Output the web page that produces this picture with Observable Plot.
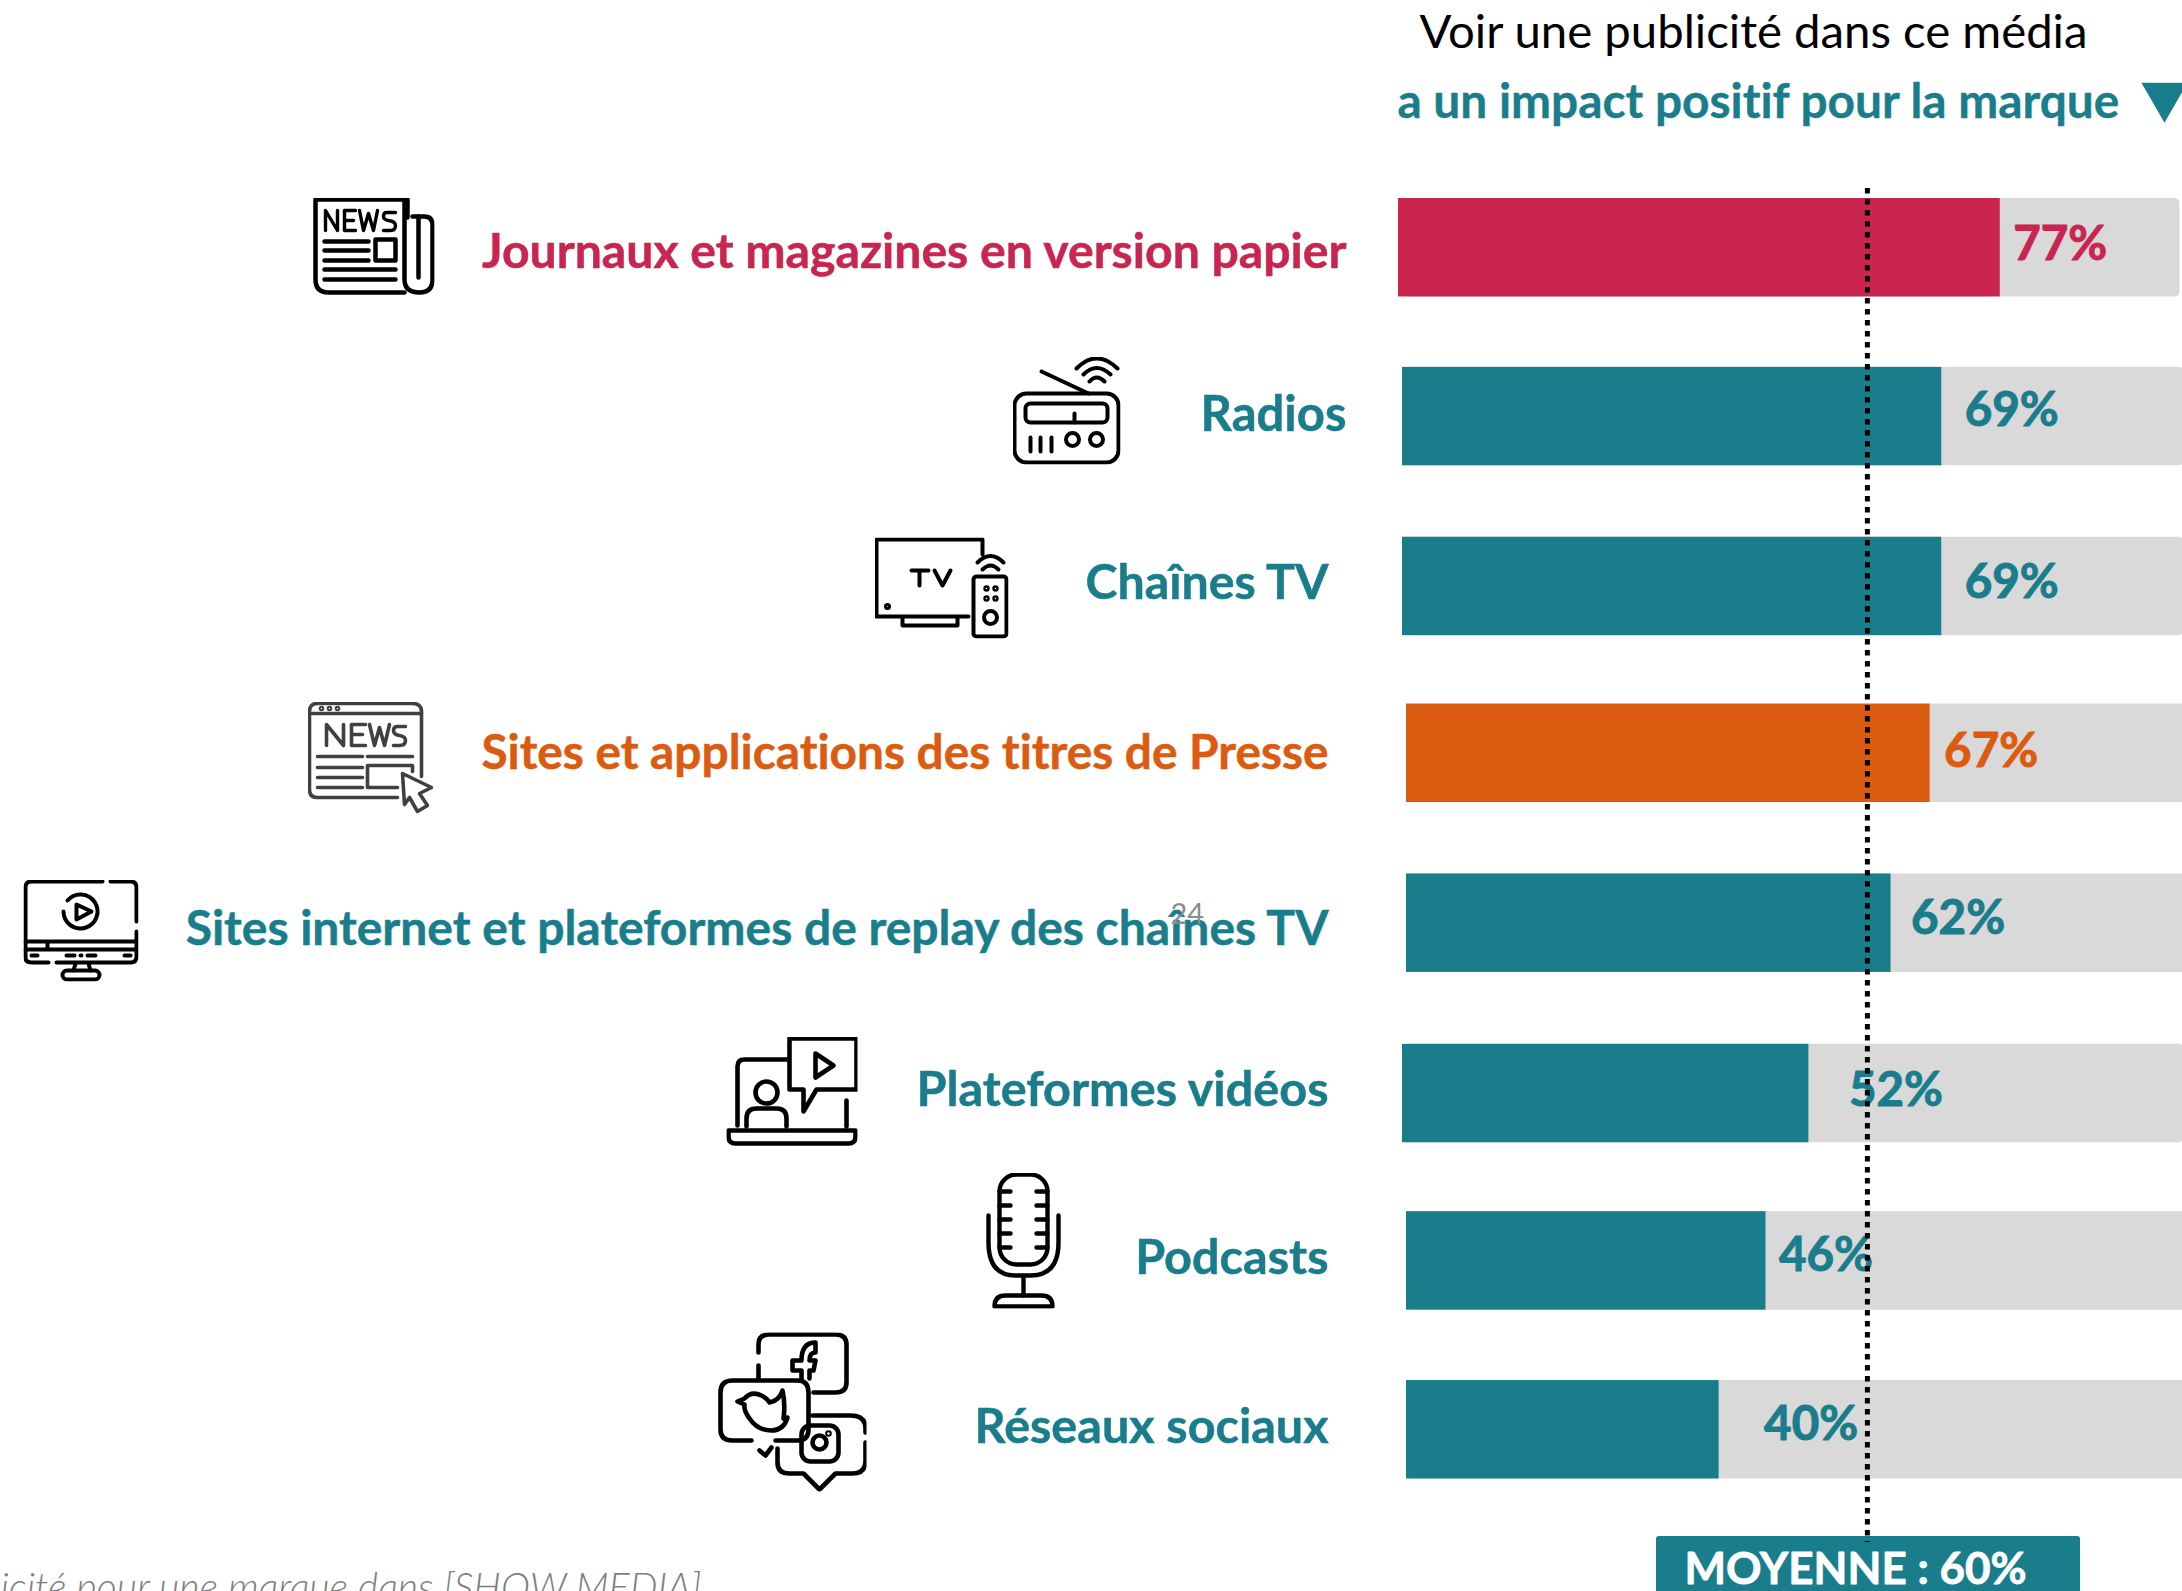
<!DOCTYPE html>
<html lang="fr">
<head>
<meta charset="utf-8">
<title>Impact positif de la publicité selon le média</title>
<script src="https://cdn.jsdelivr.net/npm/d3@7"></script>
<script src="https://cdn.jsdelivr.net/npm/@observablehq/plot@0.6"></script>
<style>html,body{margin:0;padding:0;background:#fff;overflow:hidden}svg{display:block}svg text{font-variant-ligatures:none}</style>
</head>
<body>
<div id="chart"></div>
<script>
// ---- data ----
const categories = [
  "Journaux et magazines en version papier",
  "Radios",
  "Chaînes TV",
  "Sites et applications des titres de Presse",
  "Sites internet et plateformes de replay des chaînes TV",
  "Plateformes vidéos",
  "Podcasts",
  "Réseaux sociaux"
];
const values = [77, 69, 69, 67, 62, 52, 46, 40];
const average = 60;
const averageLabel = "MOYENNE : 60%";
const titleLine1 = "Voir une publicité dans ce média";
const titleLine2 = "a un impact positif pour la marque";
const footnote = "icité pour une marque dans [SHOW MEDIA]";
const pageNumber = "24";

// ---- styles ----
const TEAL = "#1A7D8C", RED = "#C9254F", ORANGE = "#DB5C10", GREY = "#D9D9D9";
const barColors = [RED, TEAL, TEAL, ORANGE, TEAL, TEAL, TEAL, TEAL];
const W = 2182, H = 1591;
const FONT = "Lato";
const PX_PER_POINT = 7.815;

// ---- per-row nudges relative to the scales (px) ----
const barDx     = [0, 4, 4, 8, 8, 4, 8, 8];
const barDy     = [0, 0, 1, -1, 0, 1.5, 0, 0];
const labelDx   = [-52, -52, -70, -70, -70, -70, -70, -70];
const labelDy   = [5, -1.4, -3.4, 0.6, 6, -3, -2.4, -2.4];
const labelSize = [48.15, 49, 48.3, 47.8, 48, 48.6, 48.6, 48.5];
const valueDx   = [13, 23, 23, 14, 20, 40, 13, 45];
const valueDy   = [-2.5, -5.4, -4, -2, -4.5, -2.5, -5, -5];

// ---- icons: line drawings in their own local coordinates ----
const svgIcon = (w, h, sw, body, col = "#000") =>
  "data:image/svg+xml;utf8," + encodeURIComponent(
    `<svg xmlns="http://www.w3.org/2000/svg" width="${w}" height="${h}" viewBox="0 0 ${w} ${h}" preserveAspectRatio="none" fill="none" stroke="${col}" stroke-width="${sw}" stroke-linecap="round" stroke-linejoin="round">${body}</svg>`);

const icons = [
  // newspaper
  {left: 312, top: 197, w: 122, h: 98, src: svgIcon(122, 98, 4.5, `
    <path d="M93 2H3V82Q3 95 16 95H92"/><path d="M95 2V20"/>
    <path d="M100 19H112Q120 19 120 28V82Q120 95 107 95Q92 95 92 82V2"/><path d="M106 19V80"/>
    <path stroke-width="3.4" d="M13 33V13L25 33V13M43 13H32V33H43M32 23H41M47 13L51 33L56 16L61 33L65 13M83 15H74Q71 15 71 19Q71 22 76 23Q83 24 83 28Q83 33 78 33H71"/>
    <path d="M12 44H56M12 53H56M12 63H56M12 72H83M12 82H83"/><rect x="63" y="42" width="20" height="21"/>`)},
  // radio
  {left: 1012, top: 356, w: 108, h: 108, src: svgIcon(108, 108, 4, `
    <rect x="2" y="37" width="104" height="69" rx="12"/><rect x="13" y="47" width="82" height="19" rx="5"/>
    <path d="M62 57V66M29 15L76 37M18 81V95M28 81V95M39 81V95"/>
    <circle cx="60" cy="83" r="6.5"/><circle cx="84" cy="83" r="6.5"/>
    <path d="M64 12Q84 -8 105 12M71 18Q84 5 98 18M77 25Q84 17 92 25"/>`)},
  // TV and remote
  {left: 874, top: 537, w: 134, h: 101, src: svgIcon(134, 101, 4, `
    <path d="M108 17V2H2V79H94"/><path d="M28 80V88H83V80"/>
    <path d="M37 33H54M45 33V48M60 33L68 48L76 33"/><circle cx="13" cy="69" r="1.5"/>
    <rect x="99" y="39" width="33" height="60" rx="3"/>
    <path d="M103 25Q116 12 129 25M108 32Q116 24 124 32" />
    <circle cx="112" cy="51" r="1.2"/><circle cx="121" cy="51" r="1.2"/><circle cx="112" cy="61" r="1.2"/><circle cx="121" cy="61" r="1.2"/>
    <circle cx="116" cy="80" r="6.5"/>`)},
  // online news
  {left: 307, top: 701, w: 126, h: 112, src: svgIcon(126, 112, 3.6, `
    <path d="M114 75V10Q114 2 105 2H10Q2 2 2 10V88Q2 96 10 96H90"/><path d="M2 12H114"/>
    <circle cx="14" cy="7" r="1"/><circle cx="22" cy="7" r="1"/><circle cx="30" cy="7" r="1"/>
    <path d="M19 44V23L36 44V23M58 23H44V44H58M44 33H55M62 23L67 44L72 26L77 44L82 23M98 25H90Q86 25 86 29Q86 33 92 34Q98 35 98 39Q98 44 92 44H86"/>
    <path d="M10 55H55M60 55H105M10 66H55M10 76H55M10 86H55M105 70V64H60V86H90"/>
    <path d="M95 72L124 86L112 92L120 104L110 110L102 96L97 103Z"/>`, "#404040")},
  // replay monitor
  {left: 23, top: 879, w: 115, h: 102, src: svgIcon(115, 102, 4, `
    <path d="M79 2H8Q2 2 2 8V78Q2 83 8 83H25M33 83H107Q113 83 113 77V52M113 42V8Q113 2 107 2H87"/>
    <path d="M2 62H113M2 70H113M24 62V70"/>
    <path d="M8 76H14M43 76H51M57 76H58M64 76H72M101 76H107"/>
    <path d="M52 84L50 91M65 84L67 91"/><rect x="39" y="91" width="37" height="9" rx="4.5"/>
    <path d="M40 32A17 17 0 1 0 44 21"/><path d="M53 25L68 32L53 40Z"/>`)},
  // video platforms
  {left: 726, top: 1036, w: 131, h: 110, src: svgIcon(131, 110, 4.6, `
    <path d="M11 89V30Q11 23 18 23H62"/><path d="M130 2H63V53H77V75L90 53H130Z"/>
    <path d="M89 17L107 29L89 41Z"/><circle cx="40" cy="56" r="11"/>
    <path d="M20 90V82Q20 72 30 72H50Q60 72 60 82V90M120 64V90"/>
    <path d="M2 94H129V100Q129 107 122 107H9Q2 107 2 100Z"/>`)},
  // podcast microphone
  {left: 985, top: 1172, w: 76, h: 136, src: svgIcon(76, 136, 4.4, `
    <rect x="14" y="2" width="48" height="90" rx="17"/>
    <path d="M14 19H25M14 33H25M14 47H25M14 61H25M14 75H25M51 19H62M51 33H62M51 47H62M51 61H62M51 75H62"/>
    <path d="M3 43V70Q3 103 30 103H45Q73 103 73 70V43M38 103V123"/>
    <path d="M9 134Q9 123 20 123H56Q67 123 67 134Z"/>`)},
  // social networks
  {left: 717, top: 1332, w: 149, h: 159, src: svgIcon(149, 159, 4.6, `
    <path d="M41 20V12Q41 2 52 2H118Q129 2 129 12V50Q129 60 118 60H96M41 33V47"/>
    <path d="M84 47V38H75V28H84Q84 10 98 10V20Q92 20 92 28H98L96 38H92V46"/>
    <path d="M3 60Q3 48 15 48H80Q91 48 91 60V97Q91 108 80 108H58M3 60V97Q3 108 15 108H34M42 118L48 123L54 115"/>
    <path d="M20 69L27 66Q34 58 44 63Q50 66 52 70Q62 68 65 58Q68 72 66 86L70 85Q66 98 54 98Q40 98 32 86Q26 78 27 72Z"/>
    <path d="M95 83H133Q148 83 148 96V100M148 110V128Q148 141 135 141H118L102 157L86 141H72Q60 141 60 130V116"/>
    <rect x="84" y="93" width="37" height="36" rx="9"/><circle cx="102" cy="110" r="7"/><circle cx="111" cy="101" r="1"/>`)}
];

// ---- chart ----
const rows = categories.map((category, i) => ({category, value: values[i], color: barColors[i], i}));

const freeText = (text, x, y, o) => Plot.text([text], {
  text: d => d, frameAnchor: "top-left", lineAnchor: "bottom", textAnchor: "start",
  dx: x, dy: y, fontFamily: FONT, ...o
});

const chart = Plot.plot({
  width: W,
  height: H,
  margin: 0,
  style: {fontFamily: FONT, background: "transparent"},
  x: {axis: null, domain: [-1398 / PX_PER_POINT, (W - 1398) / PX_PER_POINT], range: [0, W]},
  y: {axis: null, type: "band", domain: categories, range: [198, 1478.5], paddingInner: 0.417, paddingOuter: 0, round: false},
  marks: [
    // bars
    ...rows.flatMap(r => [
      Plot.barX([r], {x1: () => 0, x2: () => 100, y: "category", fill: GREY, rx: 5, dx: barDx[r.i], dy: barDy[r.i]}),
      Plot.barX([r], {x1: () => 0, x2: "value", y: "category", fill: "color", dx: barDx[r.i], dy: barDy[r.i]})
    ]),
    // category labels
    ...rows.map(r => Plot.text([r], {
      x: () => 0, y: "category", text: "category", textAnchor: "end", lineAnchor: "middle",
      fill: r.color, stroke: r.color, strokeWidth: 0.5,
      fontSize: labelSize[r.i], fontWeight: 700, dx: labelDx[r.i], dy: labelDy[r.i] + barDy[r.i]
    })),
    // value labels
    ...rows.map(r => Plot.text([r], {
      x: "value", y: "category", text: d => d.value + "%", textAnchor: "start", lineAnchor: "middle",
      fill: r.color, stroke: r.color, strokeWidth: 1, fontSize: 47.5, fontWeight: 700, dx: barDx[r.i] + valueDx[r.i], dy: valueDy[r.i] + barDy[r.i]
    })),
    // icons
    ...icons.map(ic => Plot.image([ic], {
      src: "src", frameAnchor: "top-left", width: ic.w, height: ic.h,
      preserveAspectRatio: "none", dx: ic.left + ic.w / 2, dy: ic.top + ic.h / 2
    })),
    // title
    freeText(titleLine1, 1419, 47.5, {fontSize: 47.3, fill: "#000"}),
    freeText(titleLine2, 1397, 117, {fontSize: 47.8, fontWeight: 700, stroke: TEAL, strokeWidth: 0.4, fill: TEAL}),
    Plot.dot([0], {frameAnchor: "top-left", dx: 2164, dy: 95.5, symbol: "triangle", r: 17.15, rotate: 180, fill: TEAL, stroke: "none"}),
    // average box, label and line
    Plot.rect([0], {insetLeft: 1656, insetRight: W - 2080, insetTop: 1536, insetBottom: -10, rx: 3, fill: TEAL}),
    freeText(averageLabel, 1684, 1583, {fontSize: 44, fontWeight: 700, stroke: "#fff", strokeWidth: 0.8, fill: "#fff"}),
    Plot.ruleX([average], {insetTop: 188, insetBottom: H - 1542, stroke: "#000", strokeWidth: 5, strokeDasharray: "5.5 5.5"}),
    // page number and source note
    freeText(pageNumber, 1170, 923, {fontSize: 29, fill: "#8c8c8c"}),
    freeText(footnote, 0, 1600, {fontSize: 39.3, fontStyle: "italic", fontWeight: 300, fill: "#7f7f7f"})
  ]
});
document.getElementById("chart").append(chart);
</script>
</body>
</html>
